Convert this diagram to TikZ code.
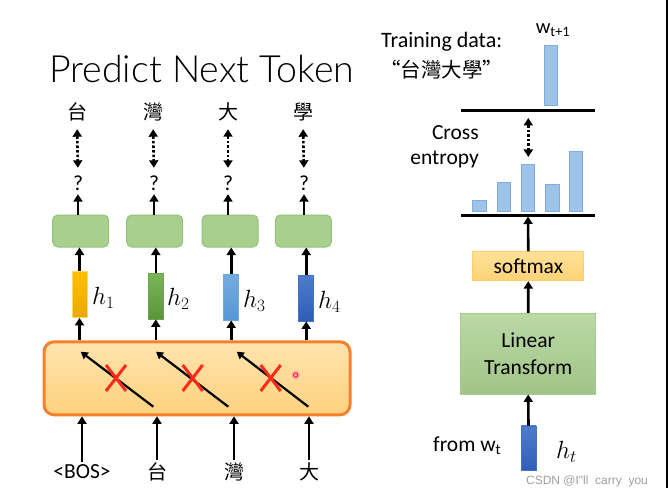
\documentclass[tikz,border=0pt]{standalone}
\usepackage{fontspec}
\setmainfont{Carlito}
\newfontfamily\cjk{Noto Sans CJK TC}
\newfontfamily\wmfont{Liberation Sans}
\IfFontExistsTF{Lato Light}{\newfontfamily\titlefont{Lato Light}}{\newfontfamily\titlefont{Carlito}}
\usetikzlibrary{arrows.meta}
\definecolor{gfill}{HTML}{A9CF8F}
\definecolor{gline}{HTML}{94C27A}
\definecolor{obord}{HTML}{F4812B}
\definecolor{otop}{HTML}{FFE3AE}
\definecolor{obot}{HTML}{FFD27E}
\definecolor{barblue}{HTML}{9DC3E6}
\definecolor{barline}{HTML}{7EAEE0}
\definecolor{xred}{HTML}{FF2A1A}
\definecolor{hAt}{HTML}{FFC000}\definecolor{hAb}{HTML}{E9A800}\definecolor{hAl}{HTML}{FFD966}
\definecolor{hBt}{HTML}{7BB55A}\definecolor{hBb}{HTML}{5A9638}\definecolor{hBl}{HTML}{6AA84F}
\definecolor{hCt}{HTML}{74ACDF}\definecolor{hCb}{HTML}{5797D6}\definecolor{hCl}{HTML}{6FA8DC}
\definecolor{hDt}{HTML}{4E7DCB}\definecolor{hDb}{HTML}{2F5DB6}\definecolor{hDl}{HTML}{4472C4}
\definecolor{smt}{HTML}{FFE196}\definecolor{smb}{HTML}{FDD277}\definecolor{sml}{HTML}{FFCC66}
\begin{document}
\begin{tikzpicture}[x=1pt,y=-1pt,
  arr/.style={line width=2.6pt,-{Triangle[width=9pt,length=7.5pt]}},
  darr/.style={line width=2.6pt,dash pattern=on 2.6pt off 2pt,{Triangle[width=9pt,length=7.5pt]}-{Triangle[width=9pt,length=7.5pt]}},
  diag/.style={line width=2.2pt,-{Triangle[width=8pt,length=7pt]}},
  gbox/.style={draw=gline,line width=1pt,fill=gfill,rounded corners=5pt,minimum width=56pt,minimum height=32pt,inner sep=0pt},
  hbar/.style={draw=#1,line width=0.8pt,minimum width=15pt,minimum height=46pt,inner sep=0pt},
  cj/.style={font=\cjk\fontsize{20}{22}\selectfont,inner sep=0pt,text height=17pt,text depth=3pt},
  lbl/.style={font=\fontsize{21.5}{24}\selectfont,inner sep=0pt,text height=14pt,text depth=0pt},
  hlab/.style={inner sep=0pt,anchor=west,font=\fontsize{24}{26}\selectfont},
  rtxt/.style={font=\fontsize{21.5}{24}\selectfont,inner sep=0pt},
  dbar/.style={draw=barline,line width=0.8pt,fill=barblue},
  xmark/.style={draw=xred,line width=3pt}
]
\useasboundingbox (0,0) rectangle (668,497);
% title
\node[font=\titlefont\fontsize{37.5}{42}\selectfont,inner sep=0pt,anchor=base west] (title) at (49,82.5) {Predict Next Token};
% top outputs
\node[cj] (t1) at (77,113) {台};
\node[cj] (t2) at (153,113) {灣};
\node[cj] (t3) at (228,113) {大};
\node[cj] (t4) at (303,113) {學};
\foreach \i/\x in {1/78,2/154,3/228,4/304}{
  \node[lbl] (q\i) at (\x,183) {?};
}
\foreach \i in {1,...,4}{
  \draw[darr,shorten <=6pt,shorten >=8pt] (t\i.south) -- (q\i.north);
}
% green boxes
\node[gbox] (g1) at (80.7,231) {};
\node[gbox] (g2) at (154.7,231) {};
\node[gbox] (g3) at (230,231) {};
\node[gbox] (g4) at (303.3,231) {};
\foreach \i in {1,...,4}{
  \draw[arr,shorten >=4pt] (q\i |- g\i.north) -- (q\i.south);
}
% hidden vectors
\node[hbar=hAl,top color=hAt,bottom color=hAb] (hb1) at (79.5,294.5) {};
\node[hbar=hBl,top color=hBt,bottom color=hBb] (hb2) at (155.8,296) {};
\node[hbar=hCl,top color=hCt,bottom color=hCb] (hb3) at (231.2,297) {};
\node[hbar=hDl,top color=hDt,bottom color=hDb] (hb4) at (306.2,298) {};
\node[hlab] (hl1) at (92,298) {$h_1$};
\node[hlab] (hl2) at (167,299) {$h_2$};
\node[hlab] (hl3) at (243,301) {$h_3$};
\node[hlab] (hl4) at (318,302) {$h_4$};
\foreach \i in {1,...,4}{
  \draw[arr] (hb\i.north) -- (hb\i.north |- g\i.south);
}
% orange box
\node[draw=obord,line width=3pt,top color=otop,bottom color=obot,rounded corners=10pt,minimum width=306pt,minimum height=73pt,inner sep=0pt] (ob) at (197,378.3) {};
\foreach \i in {1,...,4}{
  \draw[arr] (hb\i.south |- ob.north) -- (hb\i.south);
}
% diagonal arrows
\coordinate (d1s) at (153.3,406.7); \coordinate (d1e) at (80.7,351.7);
\coordinate (d2s) at (228.3,406.7); \coordinate (d2e) at (156,351.7);
\coordinate (d3s) at (308.3,406.7); \coordinate (d3e) at (236.7,351.7);
\draw[diag] (d1s) -- (d1e);
\draw[diag] (d2s) -- (d2e);
\draw[diag] (d3s) -- (d3e);
% red crosses
\foreach \cx in {116,192.7,270.7}{
  \draw[xmark] (\cx-10,365) -- (\cx+10,391);
  \draw[xmark] (\cx+10,365) -- (\cx-10,391);
}
% pointer
\fill[red!30] (295.7,375) circle (4.5pt);
\draw[red,line width=0.8pt] (295.7,375) circle (2.2pt);
% inputs
\node[lbl] (b1) at (82,471) {<BOS>};
\node[cj] (b2) at (157,472) {台};
\node[cj] (b3) at (234,472) {灣};
\node[cj] (b4) at (309,472) {大};
\foreach \i in {1,...,4}{
  \draw[arr,shorten <=2pt] (b\i.north) -- (b\i.north |- ob.south);
}
% ---------- right part
\node[font=\fontsize{22}{24}\selectfont,inner sep=0pt,anchor=west] (td) at (381,41.5) {Training data:};
\node[font=\cjk\fontsize{20.5}{24}\selectfont,inner sep=0pt,anchor=west] (tq) at (380,70) {“台灣大學”};
\node[font=\fontsize{20.5}{24}\selectfont,inner sep=0pt] (wt1) at (553,30) {w\textsubscript{t+1}};
\draw[dbar] (544.3,45) rectangle (557.7,105.7);
\coordinate (la) at (461,111); \coordinate (lb) at (595,111);
\draw[line width=3pt] (la) -- (lb);
\coordinate (ca) at (528.3,118); \coordinate (cb) at (528.3,157);
\draw[darr] (ca) -- (cb);
\node[rtxt,anchor=east] (cr) at (479,132.5) {Cross};
\node[rtxt,anchor=east] (en) at (479,159.5) {entropy};
\draw[dbar] (472.7,200.7) rectangle (486.7,211.7);
\draw[dbar] (497,182.3) rectangle (510.7,211.7);
\draw[dbar] (521,164.3) rectangle (534.7,211.7);
\draw[dbar] (545,184) rectangle (559,211.7);
\draw[dbar] (569,151.7) rectangle (582.7,211.7);
\coordinate (ma) at (461,215); \coordinate (mb) at (595,215);
\coordinate (mc) at (528,216.5);
\draw[line width=3pt] (ma) -- (mb);
\node[draw=sml,line width=0.8pt,top color=smt,bottom color=smb,minimum width=111pt,minimum height=29pt,inner sep=0pt,font=\fontsize{21.5}{24}\selectfont] (sm) at (528.3,266.2) {softmax};
\draw[arr] (sm.north) -- (mc);
\node[draw=gline!85,line width=0.8pt,top color=gfill!80!white,bottom color=gfill!95!black,minimum width=135pt,minimum height=80.7pt,inner sep=0pt,align=center,font=\fontsize{21.5}{27}\selectfont] (lt) at (528.2,353.7) {Linear\\Transform};
\draw[arr] (lt.north) -- (sm.south);
\node[draw=hDl,line width=0.6pt,top color=hDt,bottom color=hDb,minimum width=15pt,minimum height=44.7pt,inner sep=0pt] (ht) at (528.5,448.3) {};
\draw[arr] (ht.north) -- (lt.south);
\node[rtxt,anchor=west] (fw) at (433,446) {from w\textsubscript{t}};
\node[hlab] (htl) at (556,452) {$h_t$};
\node[font=\wmfont\fontsize{12}{14}\selectfont,text=black!38,inner sep=0pt] (wm) at (587,481) {CSDN @I"ll\ \ carry\ \ you};
\coordinate (ra) at (666.5,0); \coordinate (rb) at (666.5,488);
\draw[line width=2pt] (ra) -- (rb);
\end{tikzpicture}
\end{document}
